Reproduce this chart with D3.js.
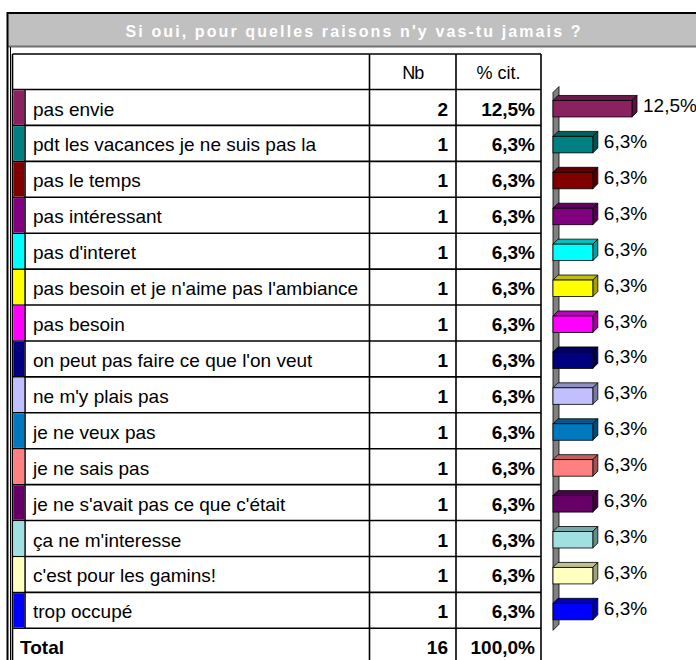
<!DOCTYPE html>
<html lang="fr">
<head>
<meta charset="UTF-8">
<title>raisons</title>
<script src="https://d3js.org/d3.v7.min.js"></script>
<style>
  body { margin: 0; background: #fff; }
  text { font-family: "Liberation Sans", Arial, sans-serif; }
</style>
</head>
<body>
<script>

// data
const titleText = "Si oui, pour quelles raisons n'y vas-tu jamais ?";
const headers = ["Nb", "% cit."];
const labels = [
  "pas envie",
  "pdt les vacances je ne suis pas la",
  "pas le temps",
  "pas intéressant",
  "pas d'interet",
  "pas besoin et je n'aime pas l'ambiance",
  "pas besoin",
  "on peut pas faire ce que l'on veut",
  "ne m'y plais pas",
  "je ne veux pas",
  "je ne sais pas",
  "je ne s'avait pas ce que c'était",
  "ça ne m'interesse",
  "c'est pour les gamins!",
  "trop occupé"
];
const counts = [2, 1, 1, 1, 1, 1, 1, 1, 1, 1, 1, 1, 1, 1, 1];
const percents = [12.5, 6.3, 6.3, 6.3, 6.3, 6.3, 6.3, 6.3, 6.3, 6.3, 6.3, 6.3, 6.3, 6.3, 6.3];
const colors = ["#8a2262", "#008080", "#800000", "#800080", "#00ffff", "#ffff00", "#ff00ff",
  "#000080", "#c0c0ff", "#0078c0", "#ff8080", "#660066", "#a0e0e0", "#ffffc0", "#0000ff"];
const totalCount = 16;
const totalPct = 100.0;

const rows = labels.map((d, i) => ({label: d, nb: counts[i], pct: percents[i], color: colors[i]}));

const fr = d3.formatLocale({decimal: ",", thousands: " ", grouping: [3], currency: ["", "€"]});
const fmtPct = v => fr.format(".1f")(v) + "%";

const W = 696, H = 660;
const svg = d3.select("body").append("svg")
    .attr("width", W)
    .attr("height", H);

// frame + title band
svg.append("rect").attr("x", 7).attr("y", 13).attr("width", W).attr("height", 33)
    .attr("fill", "#c0c0c0");
svg.append("line").attr("x1", 7).attr("x2", W).attr("y1", 13).attr("y2", 13)
    .attr("stroke", "#000").attr("stroke-width", 2);
svg.append("line").attr("x1", 7).attr("x2", W).attr("y1", 46.5).attr("y2", 46.5)
    .attr("stroke", "#707070").attr("stroke-width", 2);
svg.append("line").attr("x1", 7.5).attr("x2", 7.5).attr("y1", 12).attr("y2", H)
    .attr("stroke", "#000").attr("stroke-width", 2);
svg.append("line").attr("x1", 10.5).attr("x2", 10.5).attr("y1", 47).attr("y2", H)
    .attr("stroke", "#000").attr("stroke-width", 1);

svg.append("text")
    .attr("x", 353).attr("y", 37)
    .attr("text-anchor", "middle")
    .attr("fill", "#fff")
    .attr("font-size", 16)
    .attr("font-weight", "bold")
    .attr("textLength", 455)
    .attr("lengthAdjust", "spacing")
    .text(titleText);

// table geometry
const tLeft = 12.5, swR = 25, c1 = 369.5, c2 = 456, c3 = 541;
const headTop = 54, rowsTop = 89.5, rowsBottom = 628.3;

const y = d3.scaleBand()
    .domain(labels)
    .range([rowsTop, rowsBottom]);
const rh = y.bandwidth();
const totalTop = rowsBottom, totalBottom = rowsBottom + rh;

const grid = svg.append("g").attr("stroke", "#000").attr("stroke-width", 1.6);

// horizontal lines
[headTop, rowsTop].concat(labels.map(d => y(d) + rh)).forEach(v => {
  grid.append("line").attr("x1", tLeft).attr("x2", c3).attr("y1", v).attr("y2", v);
});
// vertical lines
[tLeft, c1, c2, c3].forEach(v => {
  grid.append("line").attr("x1", v).attr("x2", v).attr("y1", headTop).attr("y2", totalBottom);
});
grid.append("line").attr("x1", swR).attr("x2", swR).attr("y1", rowsTop).attr("y2", rowsBottom);

// swatches
svg.selectAll(".sw")
  .data(rows)
  .enter().append("rect")
    .attr("class", "sw")
    .attr("x", tLeft + 0.8)
    .attr("y", d => y(d.label) + 0.8)
    .attr("width", swR - tLeft - 1.6)
    .attr("height", rh - 1.6)
    .attr("fill", d => d.color);

// header
svg.append("text").attr("x", (c1 + c2) / 2).attr("y", headTop + 25)
    .attr("text-anchor", "middle").attr("font-size", 18).attr("letter-spacing", -1).text(headers[0]);
svg.append("text").attr("x", (c2 + c3) / 2).attr("y", headTop + 25)
    .attr("text-anchor", "middle").attr("font-size", 18).text(headers[1]);

// rows
const rowG = svg.selectAll(".row")
  .data(rows)
  .enter().append("g")
    .attr("class", "row")
    .attr("transform", d => "translate(0," + y(d.label) + ")");

rowG.append("text").attr("x", 33).attr("y", 26).attr("font-size", 19)
    .text(d => d.label);
rowG.append("text").attr("x", c2 - 8).attr("y", 26).attr("font-size", 19)
    .attr("font-weight", "bold").attr("text-anchor", "end")
    .text(d => d.nb);
rowG.append("text").attr("x", c3 - 6).attr("y", 26).attr("font-size", 19)
    .attr("font-weight", "bold").attr("text-anchor", "end")
    .text(d => fmtPct(d.pct));

// total row
svg.append("text").attr("x", 20).attr("y", totalTop + 26).attr("font-size", 19)
    .attr("font-weight", "bold").text("Total");
svg.append("text").attr("x", c2 - 8).attr("y", totalTop + 26).attr("font-size", 19)
    .attr("font-weight", "bold").attr("text-anchor", "end").text(totalCount);
svg.append("text").attr("x", c3 - 6).attr("y", totalTop + 26).attr("font-size", 19)
    .attr("font-weight", "bold").attr("text-anchor", "end").text(fmtPct(totalPct));

// 3d bar chart
const x = d3.scaleLinear().domain([0, 12.5]).range([553, 632]);
const dep = 5;

// back wall
const wx = x(0);
svg.append("path")
    .attr("d", "M" + wx + "," + (rowsBottom + 2) + "L" + wx + "," + (rowsTop + 3) +
      "L" + (wx + dep + 1) + "," + (rowsTop - 3) + "L" + (wx + dep + 1) + "," + (rowsBottom - 4) + "Z")
    .attr("fill", "#808080").attr("stroke", "#000").attr("stroke-width", 0.8);

const bars = svg.selectAll(".bar")
  .data(rows)
  .enter().append("g")
    .attr("class", "bar");

const fy = d => y(d.label) + rh / 2 - 7;
const fh = 16.5;

bars.append("path")  // top face
    .attr("d", d => {
      const x0 = x(0), x1 = x(d.pct), t = fy(d);
      return "M" + x0 + "," + t + "L" + (x0 + dep) + "," + (t - dep) + "L" + (x1 + dep) + "," + (t - dep) + "L" + x1 + "," + t + "Z";
    })
    .attr("fill", d => d3.color(d.color).darker(0.8))
    .attr("stroke", "#000").attr("stroke-width", 0.8);
bars.append("path")  // side face
    .attr("d", d => {
      const x1 = x(d.pct), t = fy(d);
      return "M" + x1 + "," + t + "L" + (x1 + dep) + "," + (t - dep) + "L" + (x1 + dep) + "," + (t + fh - dep) + "L" + x1 + "," + (t + fh) + "Z";
    })
    .attr("fill", d => d3.color(d.color).darker(1.3))
    .attr("stroke", "#000").attr("stroke-width", 0.8);
bars.append("rect")  // front face
    .attr("x", x(0))
    .attr("y", fy)
    .attr("width", d => x(d.pct) - x(0))
    .attr("height", fh)
    .attr("fill", d => d.color)
    .attr("stroke", "#000").attr("stroke-width", 0.8);

bars.append("text")
    .attr("x", d => x(d.pct) + dep + 6)
    .attr("y", d => y(d.label) + 22.5)
    .attr("font-size", 19)
    .text(d => fmtPct(d.pct));

</script>
</body>
</html>
